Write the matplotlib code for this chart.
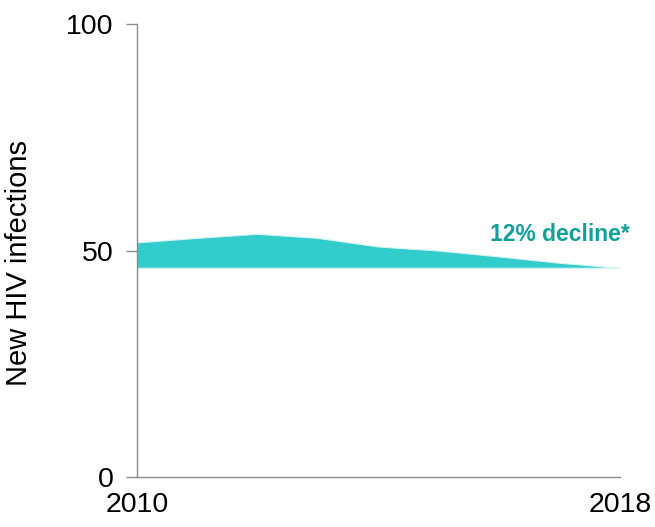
import matplotlib
matplotlib.use("Agg")
import matplotlib.pyplot as plt
import numpy as np

plt.rcParams["font.family"] = ["Liberation Sans", "DejaVu Sans"]

years = [2010, 2011, 2012, 2013, 2014, 2015, 2016, 2017, 2018]
new_infections = [51.7, 52.7, 53.6, 52.7, 50.8, 49.9, 48.6, 47.2, 46.1]
y_ticks = [0, 50, 100]
x_ticks = [2010, 2018]
annotation = "12% decline*"

TEAL = "#33CCCC"
TEXT_TEAL = "#12A09A"
AXIS_GRAY = "#8C8C8C"

base = np.full(len(years), new_infections[-1])
excess = np.array(new_infections) - base

fig = plt.figure(figsize=(6.55, 5.27), dpi=100)
ax = fig.add_axes([0.209, 0.095, 0.738, 0.859])

ax.stackplot(years, base, excess, colors=["white", TEAL],
             edgecolor=["#D8F4F4", TEAL], linewidth=0.8)

ax.set_xlim(years[0], years[-1])
ax.set_ylim(0, 100)
ax.set_xticks(x_ticks)
ax.set_yticks(y_ticks)
ax.tick_params(axis="x", length=0, pad=11, labelsize=20.5)
ax.tick_params(axis="y", length=8, width=1, color=AXIS_GRAY, pad=9, labelsize=20.5)

for side in ["top", "right"]:
    ax.spines[side].set_visible(False)
for side in ["left", "bottom"]:
    ax.spines[side].set_color(AXIS_GRAY)
    ax.spines[side].set_linewidth(1)

ax.set_ylabel("New HIV infections", fontsize=21)
ax.yaxis.set_label_coords(-0.215, 0.472)

ax.text(2018.15, 53.6, annotation, color=TEXT_TEAL, fontsize=16.5,
        fontweight="bold", ha="right", va="center")

fig.savefig("out.png", dpi=100)
